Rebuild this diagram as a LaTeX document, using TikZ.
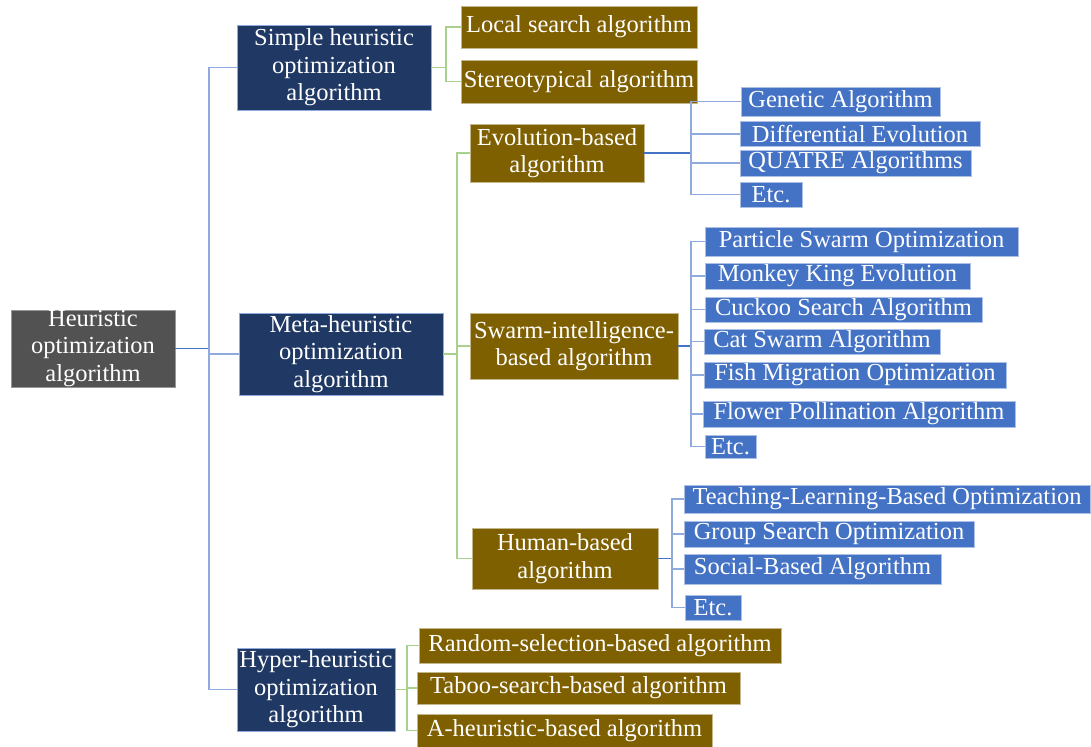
\documentclass[tikz,border=0pt]{standalone}
\usepackage{fontspec}
\setmainfont{Liberation Serif}
\definecolor{heurgray}{HTML}{525252}
\definecolor{levelnavy}{HTML}{1F3864}
\definecolor{groupbrown}{HTML}{7F6000}
\definecolor{leafblue}{HTML}{4472C4}
\definecolor{lineblue}{HTML}{8FAADC}
\definecolor{linegreen}{HTML}{A9D18E}
\newlength\px
\setlength\px{0.025cm}
\tikzstyle{base} = [rectangle, 
inner sep=0pt, 
align=center, 
text=white, 
line width=0.5pt,
font=\fontsize{17.4}{19.6}\selectfont]
\tikzstyle{rootbox} = [base, fill=heurgray, draw=heurgray!60!white]
\tikzstyle{levelbox} = [base, fill=levelnavy, draw=lineblue]
\tikzstyle{groupbox} = [base, fill=groupbrown, draw=groupbrown!45!white]
\tikzstyle{leafbox} = [base, fill=leafblue, draw=leafblue!45!white]
\tikzstyle{blueline} = [draw=lineblue, line width=1pt]
\tikzstyle{bluestub} = [draw=leafblue, line width=1.3pt]
\tikzstyle{greenline} = [draw=linegreen, line width=1pt]

\begin{document}
\begin{tikzpicture}[x=0.025cm, y=-0.025cm]
\useasboundingbox (0,0) rectangle (1091,747);

% first level
\node (root) [rootbox, minimum width=164\px, minimum height=77\px] at (93,348.5) {Heuristic\\optimization\\algorithm};
\node (simple) [levelbox, minimum width=194\px, minimum height=85\px] at (334,67.5) {Simple heuristic\\optimization\\algorithm};
\node (meta) [levelbox, minimum width=204\px, minimum height=82\px] at (341,354) {Meta-heuristic\\optimization\\algorithm};
\node (hyper) [levelbox, minimum width=158\px, minimum height=83\px] at (316,689.5) {Hyper-heuristic\\optimization\\algorithm};

% simple heuristic
\node (local) [groupbox, minimum width=236\px, minimum height=42\px] at (579,27) {Local search algorithm};
\node (stereo) [groupbox, minimum width=236\px, minimum height=43\px] at (579,81.5) {Stereotypical algorithm};

% meta-heuristic
\node (evo) [groupbox, minimum width=174\px, minimum height=58\px] at (557,153) {Evolution-based\\algorithm};
\node (swarm) [groupbox, minimum width=208\px, minimum height=66\px] at (574,346) {Swarm-intelligence-\\based algorithm};
\node (human) [groupbox, minimum width=186\px, minimum height=61\px] at (565,558.5) {Human-based\\algorithm};

\node (ga) [leafbox, minimum width=199\px, minimum height=29\px] at (840.5,101.5) {Genetic Algorithm};
\node (de) [leafbox, minimum width=240\px, minimum height=25\px] at (860,134) {Differential Evolution};
\node (quatre) [leafbox, minimum width=231\px, minimum height=26\px] at (855.5,163) {QUATRE Algorithms};
\node (evoetc) [leafbox, minimum width=62\px, minimum height=25\px] at (771,194.5) {Etc.};

\node (pso) [leafbox, minimum width=313\px, minimum height=29\px] at (861.5,241.5) {Particle Swarm Optimization};
\node (mke) [leafbox, minimum width=265\px, minimum height=26\px] at (837.5,276) {Monkey King Evolution};
\node (csa) [leafbox, minimum width=277\px, minimum height=25\px] at (843.5,309.5) {Cuckoo Search Algorithm};
\node (cat) [leafbox, minimum width=236\px, minimum height=25\px] at (822,341.5) {Cat Swarm Algorithm};
\node (fmo) [leafbox, minimum width=302\px, minimum height=26\px] at (855,375) {Fish Migration Optimization};
\node (fpa) [leafbox, minimum width=312\px, minimum height=26\px] at (859,414) {Flower Pollination Algorithm};
\node (swarmetc) [leafbox, minimum width=51\px, minimum height=23\px] at (730.5,446.5) {Etc.};

\node (tlbo) [leafbox, minimum width=406\px, minimum height=28\px] at (887,499) {Teaching-Learning-Based Optimization};
\node (gso) [leafbox, minimum width=290\px, minimum height=26\px] at (829,534) {Group Search Optimization};
\node (social) [leafbox, minimum width=257\px, minimum height=30\px] at (812.5,569) {Social-Based Algorithm};
\node (humanetc) [leafbox, minimum width=56\px, minimum height=25\px] at (713,607.5) {Etc.};

% hyper-heuristic
\node (random) [groupbox, minimum width=362\px, minimum height=35\px] at (600,645.5) {Random-selection-based algorithm};
\node (taboo) [groupbox, minimum width=323\px, minimum height=32\px] at (578.5,688) {Taboo-search-based algorithm};
\node (aheur) [groupbox, minimum width=295\px, minimum height=33\px] at (564.5,730.5) {A-heuristic-based algorithm};

% branch points
\coordinate (rootbus) at (209,348.5);
\coordinate (simplebus) at (446,67.5);
\coordinate (metabus) at (457,354);
\coordinate (hyperbus) at (407,689.5);
\coordinate (evobus) at (691,153);
\coordinate (swarmbus) at (691,346);
\coordinate (humanbus) at (672,558.5);

\draw [bluestub] (root) -- (rootbus);
\draw [blueline] (rootbus) |- (simple);
\draw [blueline] (rootbus) |- (meta);
\draw [blueline] (rootbus) |- (hyper);

\draw [greenline] (simple) -- (simplebus);
\draw [greenline] (simplebus) |- (local);
\draw [greenline] (simplebus) |- (stereo);

\draw [greenline] (meta) -- (metabus);
\draw [greenline] (metabus) |- (evo);
\draw [greenline] (metabus) |- (swarm);
\draw [greenline] (metabus) |- (human);

\draw [greenline] (hyper) -- (hyperbus);
\draw [greenline] (hyperbus) |- (random);
\draw [greenline] (hyperbus) |- (taboo);
\draw [greenline] (hyperbus) |- (aheur);

\draw [bluestub] (evo) -- (evobus);
\draw [blueline] (evobus) |- (ga);
\draw [blueline] (evobus) |- (de);
\draw [blueline] (evobus) |- (quatre);
\draw [blueline] (evobus) |- (evoetc);

\draw [bluestub] (swarm) -- (swarmbus);
\draw [blueline] (swarmbus) |- (pso);
\draw [blueline] (swarmbus) |- (mke);
\draw [blueline] (swarmbus) |- (csa);
\draw [blueline] (swarmbus) |- (cat);
\draw [blueline] (swarmbus) |- (fmo);
\draw [blueline] (swarmbus) |- (fpa);
\draw [blueline] (swarmbus) |- (swarmetc);

\draw [bluestub] (human) -- (humanbus);
\draw [blueline] (humanbus) |- (tlbo);
\draw [blueline] (humanbus) |- (gso);
\draw [blueline] (humanbus) |- (social);
\draw [blueline] (humanbus) |- (humanetc);

\end{tikzpicture}
\end{document}
